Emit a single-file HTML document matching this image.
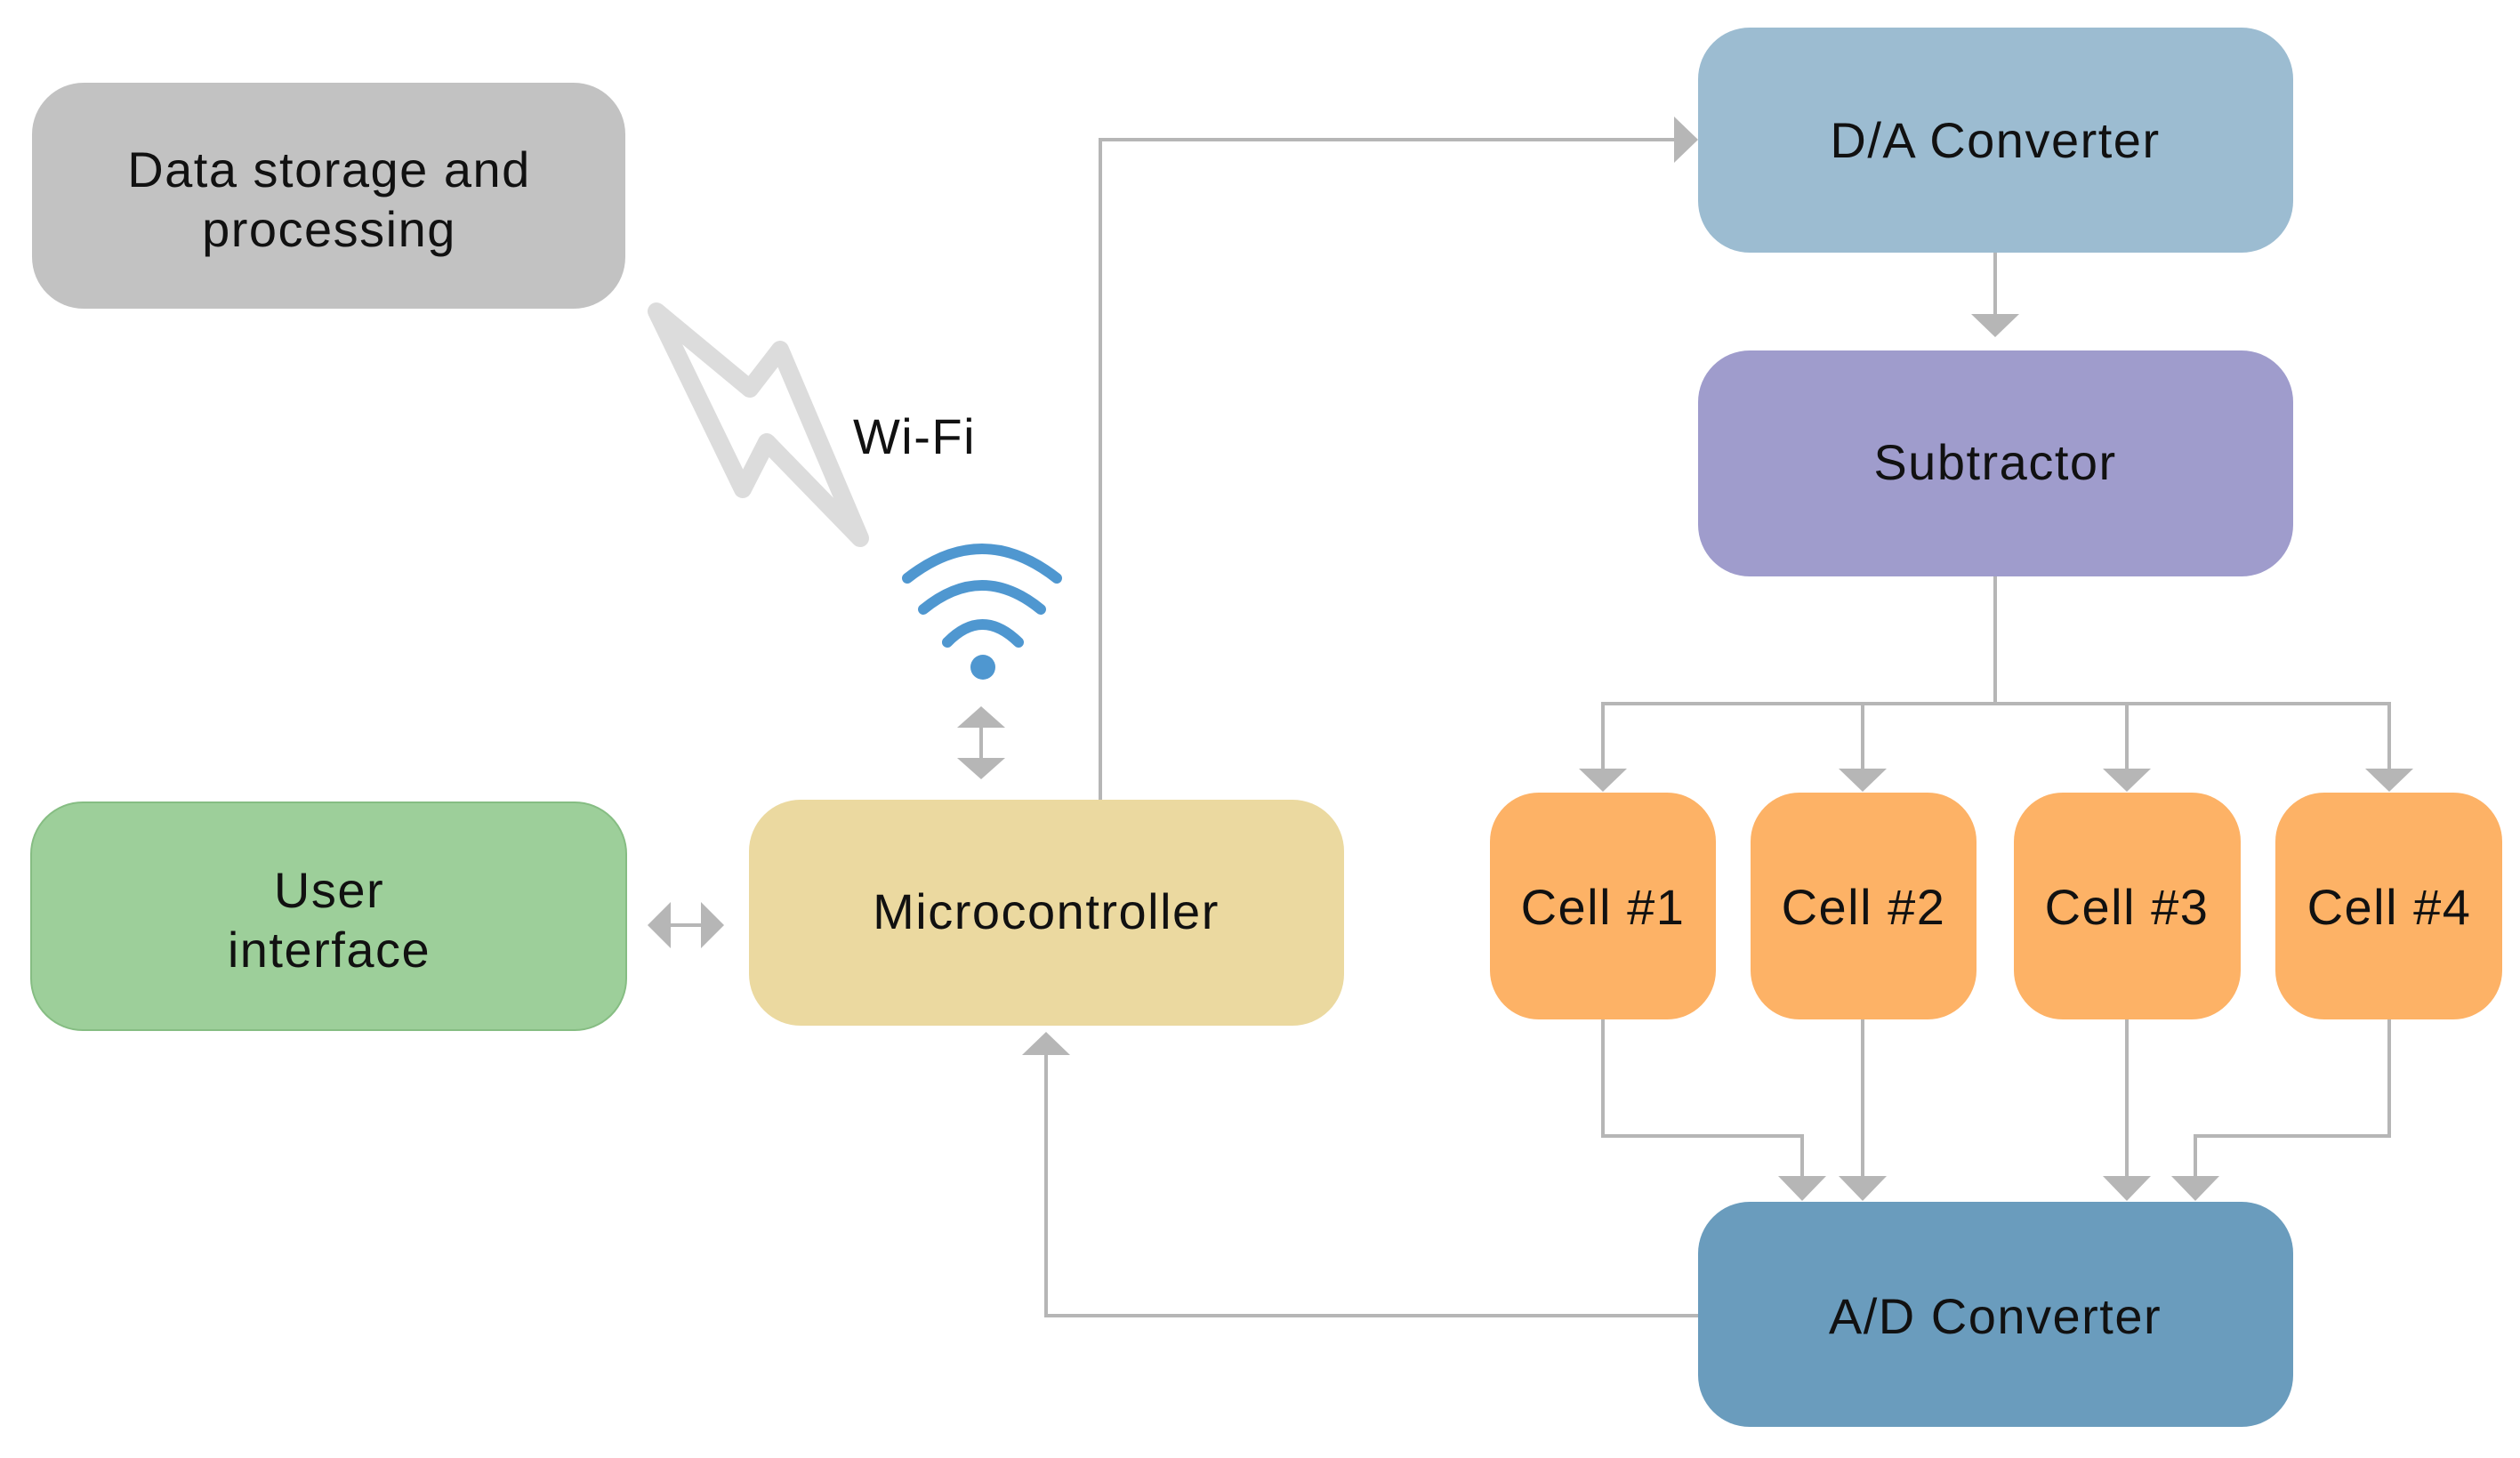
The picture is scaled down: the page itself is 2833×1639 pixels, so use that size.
<!DOCTYPE html>
<html><head><meta charset="utf-8"><style>
html,body{margin:0;padding:0;background:#fff;}
svg{display:block;}
text{font-family:"Liberation Sans",sans-serif;font-size:56px;fill:#111;text-anchor:middle;letter-spacing:1.5px;}
</style></head><body>
<svg width="2833" height="1639" viewBox="0 0 2833 1639" xmlns="http://www.w3.org/2000/svg">
<g fill="none" stroke="#b6b6b6" stroke-width="4">
<polyline points="1237,899 1237,157 1884,157"/>
<polyline points="2243,284 2243,355"/>
<polyline points="2243,648 2243,791"/>
<polyline points="1802,865 1802,791 2686,791 2686,865"/>
<polyline points="2094,791 2094,865"/>
<polyline points="2391,791 2391,865"/>
<polyline points="1802,1145 1802,1277 2026,1277 2026,1324"/>
<polyline points="2094,1145 2094,1324"/>
<polyline points="2391,1145 2391,1324"/>
<polyline points="2686,1145 2686,1277 2468,1277 2468,1324"/>
<polyline points="1909,1479 1176,1479 1176,1184"/>
<line x1="1103" y1="815" x2="1103" y2="855"/>
<line x1="750" y1="1040" x2="792" y2="1040"/>
</g>
<g fill="#b6b6b6">
<polygon points="1882,131 1909,157 1882,183"/>
<polygon points="2216,353 2270,353 2243,379"/>
<polygon points="1775,864 1829,864 1802,890"/>
<polygon points="2067,864 2121,864 2094,890"/>
<polygon points="2364,864 2418,864 2391,890"/>
<polygon points="2659,864 2713,864 2686,890"/>
<polygon points="1999,1322 2053,1322 2026,1350"/>
<polygon points="2067,1322 2121,1322 2094,1350"/>
<polygon points="2364,1322 2418,1322 2391,1350"/>
<polygon points="2441,1322 2495,1322 2468,1350"/>
<polygon points="1149,1186 1203,1186 1176,1160"/>
<polygon points="1076,818 1130,818 1103,794"/>
<polygon points="1076,852 1130,852 1103,876"/>
<polygon points="754,1014 754,1066 728,1040"/>
<polygon points="788,1014 788,1066 814,1040"/>
</g>
<rect x="36" y="93" width="667" height="254" rx="58" fill="#c2c2c2"/>
<rect x="35" y="902" width="669" height="256" rx="58" fill="#9dcf9a" stroke="#86bd83" stroke-width="2"/>
<rect x="842" y="899" width="669" height="254" rx="58" fill="#ebd9a0"/>
<rect x="1909" y="31" width="669" height="253" rx="58" fill="#9cbcd1"/>
<rect x="1909" y="394" width="669" height="254" rx="58" fill="#9f9ccc"/>
<rect x="1675" y="891" width="254" height="255" rx="55" fill="#fdb266"/>
<rect x="1968" y="891" width="254" height="255" rx="55" fill="#fdb266"/>
<rect x="2264" y="891" width="255" height="255" rx="55" fill="#fdb266"/>
<rect x="2558" y="891" width="255" height="255" rx="55" fill="#fdb266"/>
<rect x="1909" y="1351" width="669" height="253" rx="58" fill="#6a9cbd"/>
<path d="M738,350 L843,437 L877,393 L967,605 L862,497 L835,550 Z" fill="none" stroke="#dcdcdc" stroke-width="20" stroke-linejoin="round"/>
<g fill="none" stroke="#4f97d0" stroke-width="12" stroke-linecap="round">
<path d="M1020,650 Q1104,584 1188,650"/>
<path d="M1038,685 Q1104,631 1170,685"/>
<path d="M1065,722 Q1104,682 1145,722"/>
</g>
<circle cx="1105" cy="750" r="14" fill="#4f97d0"/>
<text x="370" y="210">Data storage and</text>
<text x="370" y="277">processing</text>
<text x="370" y="1020">User</text>
<text x="370" y="1087">interface</text>
<text x="1176" y="1044">Microcontroller</text>
<text x="1028" y="510" style="text-anchor:middle">Wi-Fi</text>
<text x="2243" y="177">D/A Converter</text>
<text x="2243" y="539">Subtractor</text>
<text x="1802" y="1039">Cell #1</text>
<text x="2095" y="1039">Cell #2</text>
<text x="2391" y="1039">Cell #3</text>
<text x="2686" y="1039">Cell #4</text>
<text x="2243" y="1499">A/D Converter</text>
</svg>
</body></html>
